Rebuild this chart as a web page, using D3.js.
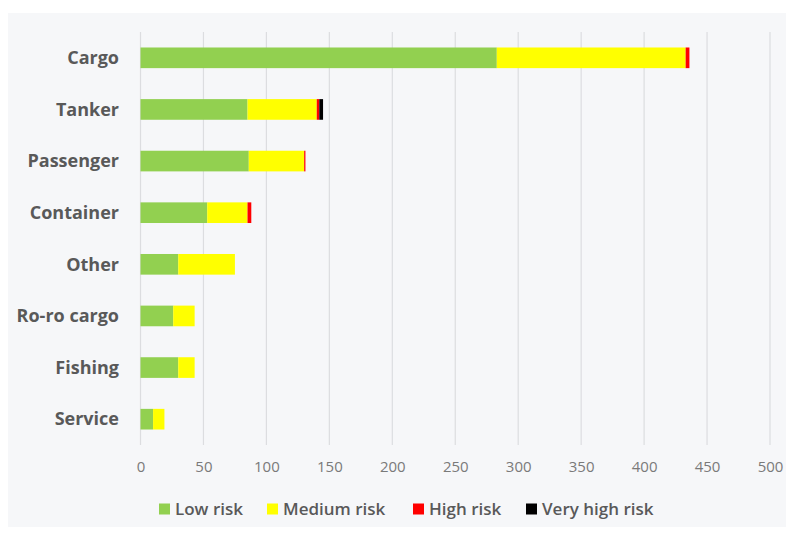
<!DOCTYPE html>
<html>
<head>
<meta charset="utf-8">
<script src="https://cdn.jsdelivr.net/npm/d3@7"></script>
<style>
  html, body { margin: 0; padding: 0; background: #ffffff; }
  svg { display: block; }
</style>
</head>
<body>
<svg id="chart" width="789" height="536"></svg>
<script>
// Ship categories, top to bottom
const categories = ["Cargo", "Tanker", "Passenger", "Container", "Other", "Ro-ro cargo", "Fishing", "Service"];

// Number of ships per risk level for each category
const lowRisk      = [283, 85, 86, 53, 30, 26, 30, 10];
const mediumRisk   = [150, 55, 44, 32, 45, 17, 13, 9];
const highRisk     = [3, 2, 1, 3, 0, 0, 0, 0];
const veryHighRisk = [0, 3, 0, 0, 0, 0, 0, 0];

const seriesNames  = ["Low risk", "Medium risk", "High risk", "Very high risk"];
const seriesColors = ["#92d050", "#ffff00", "#ff0000", "#000000"];
const xTicks = [0, 50, 100, 150, 200, 250, 300, 350, 400, 450, 500];

const FONT = "'Open Sans', Lato, sans-serif";
const svg = d3.select("#chart");

// Chart panel
svg.append("rect")
  .attr("x", 8).attr("y", 13)
  .attr("width", 778).attr("height", 514)
  .attr("fill", "#f6f7f9");

const x = d3.scaleLinear().domain([0, 500]).range([140.5, 770]);
const y = d3.scaleBand().domain(categories).range([32, 445])
  .paddingInner(0.6).paddingOuter(0.3);

// Vertical gridlines
svg.append("g")
  .selectAll("line")
  .data(xTicks)
  .join("line")
  .attr("x1", d => x(d)).attr("x2", d => x(d))
  .attr("y1", 32).attr("y2", 445)
  .attr("stroke", "#dcdde0")
  .attr("stroke-width", 1.2);

// Stacked bars
const rows = categories.map((c, i) => ({
  category: c,
  "Low risk": lowRisk[i],
  "Medium risk": mediumRisk[i],
  "High risk": highRisk[i],
  "Very high risk": veryHighRisk[i]
}));
const stacked = d3.stack().keys(seriesNames)(rows);

svg.append("g")
  .selectAll("g")
  .data(stacked)
  .join("g")
  .attr("fill", (d, i) => seriesColors[i])
  .selectAll("rect")
  .data(d => d.filter(p => p[1] > p[0]))
  .join("rect")
  .attr("x", d => x(d[0]))
  .attr("width", d => x(d[1]) - x(d[0]))
  .attr("y", d => y(d.data.category))
  .attr("height", y.bandwidth());

// Category axis labels
svg.append("g")
  .selectAll("text")
  .data(categories)
  .join("text")
  .attr("x", 119)
  .attr("y", d => y(d) + y.bandwidth() / 2)
  .attr("dy", "0.35em")
  .attr("text-anchor", "end")
  .attr("font-family", FONT)
  .attr("font-weight", "bold")
  .attr("font-size", 18)
  .attr("fill", "#595959")
  .text(d => d);

// Value axis labels
const xAxis = d3.axisBottom(x).tickValues(xTicks).tickSize(0).tickPadding(0);
const xg = svg.append("g").attr("transform", "translate(0,461)").call(xAxis);
xg.select(".domain").remove();
xg.selectAll("text")
  .attr("font-family", FONT)
  .attr("font-size", 15)
  .attr("fill", "#7a7a7a");

// Legend
const legendX = [159, 267, 413, 526];
const legend = svg.append("g")
  .selectAll("g")
  .data(seriesNames)
  .join("g")
  .attr("transform", (d, i) => `translate(${legendX[i]},509)`);
legend.append("rect")
  .attr("x", 0).attr("y", -5.5)
  .attr("width", 11).attr("height", 11)
  .attr("fill", (d, i) => seriesColors[i]);
legend.append("text")
  .attr("x", 16)
  .attr("dy", "0.35em")
  .attr("font-family", FONT)
  .attr("font-weight", 600)
  .attr("font-size", 17)
  .attr("fill", "#595959")
  .text(d => d);
</script>
</body>
</html>
